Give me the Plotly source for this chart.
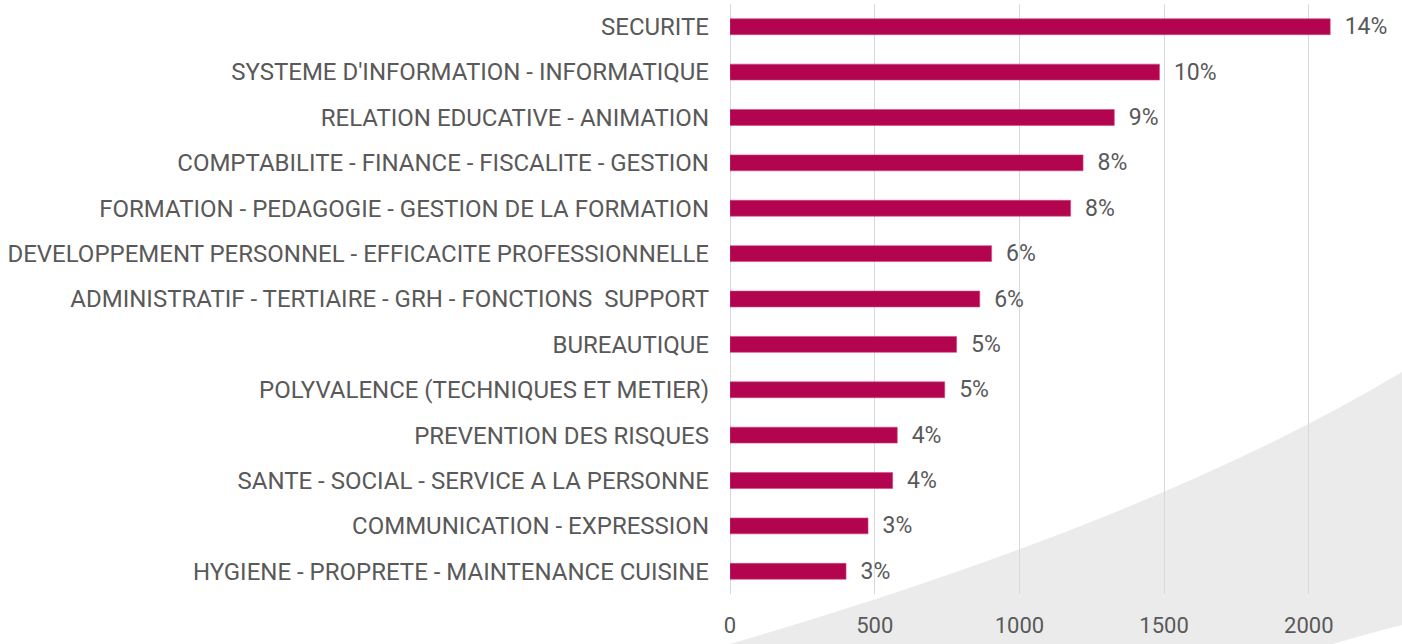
import plotly.graph_objects as go

categories = [
    "SECURITE",
    "SYSTEME D'INFORMATION - INFORMATIQUE",
    "RELATION EDUCATIVE - ANIMATION",
    "COMPTABILITE - FINANCE - FISCALITE - GESTION",
    "FORMATION - PEDAGOGIE - GESTION DE LA FORMATION",
    "DEVELOPPEMENT PERSONNEL - EFFICACITE PROFESSIONNELLE",
    "ADMINISTRATIF - TERTIAIRE - GRH - FONCTIONS  SUPPORT",
    "BUREAUTIQUE",
    "POLYVALENCE (TECHNIQUES ET METIER)",
    "PREVENTION DES RISQUES",
    "SANTE - SOCIAL - SERVICE A LA PERSONNE",
    "COMMUNICATION - EXPRESSION",
    "HYGIENE - PROPRETE - MAINTENANCE CUISINE",
]
values = [2074, 1484, 1328, 1220, 1177, 904, 863, 783, 742, 578, 562, 477, 401]
pct_labels = ["14%", "10%", "9%", "8%", "8%", "6%", "6%", "5%", "5%", "4%", "4%", "3%", "3%"]
x_ticks = [0, 500, 1000, 1500, 2000]

FONT = "Roboto, sans-serif"
TXT = "#595959"

fig = go.Figure(
    go.Bar(
        x=values,
        y=categories,
        orientation="h",
        width=0.35,
        marker=dict(color="#B3044F", line=dict(color="#D0487F", width=0.6)),
        text=pct_labels,
        texttemplate="\u00a0\u00a0%{text}",
        textposition="outside",
        constraintext="none",
        cliponaxis=False,
        textfont=dict(family=FONT, size=23, color=TXT),
    )
)

# decorative grey swoosh in the background (pixel -> paper conversion)
W, H = 1402, 644
ml, mr, mt, mb = 730, 0, 4, 50
pw, ph = W - ml - mr, H - mt - mb


def px(x):
    return (x - ml) / pw


def py(y):
    return (H - mb - y) / ph


path = (
    f"M {px(730)},{py(644)} "
    f"Q {px(1153)},{py(521)} {px(1402)},{py(372)} "
    f"L {px(1402)},{py(625)} "
    f"Q {px(1370)},{py(633)} {px(1333)},{py(644)} Z"
)
fig.add_shape(
    type="path", path=path, xref="paper", yref="paper",
    fillcolor="#EBEBEB", line=dict(width=0), layer="below",
)

fig.update_layout(
    width=W,
    height=H,
    margin=dict(l=ml, r=mr, t=mt, b=mb, autoexpand=False),
    paper_bgcolor="white",
    plot_bgcolor="rgba(0,0,0,0)",
    showlegend=False,
    bargap=0.65,
    xaxis=dict(
        range=[0, pw / (578.8 / 2000)],
        tickvals=x_ticks,
        automargin=False,
        showgrid=True,
        gridcolor="#D9D9D9",
        gridwidth=1,
        zeroline=True,
        zerolinecolor="#D9D9D9",
        zerolinewidth=1,
        showline=False,
        tickfont=dict(family=FONT, size=22, color=TXT),
        ticklabelstandoff=16,
    ),
    yaxis=dict(
        autorange="reversed",
        automargin=False,
        showgrid=False,
        showline=False,
        tickfont=dict(family=FONT, size=24, color=TXT),
        ticklabelstandoff=20,
    ),
)

fig.write_html(
    "out.html",
    config={"displayModeBar": False},
    post_script="document.body.style.margin='0';document.body.style.overflow='hidden';",
)
